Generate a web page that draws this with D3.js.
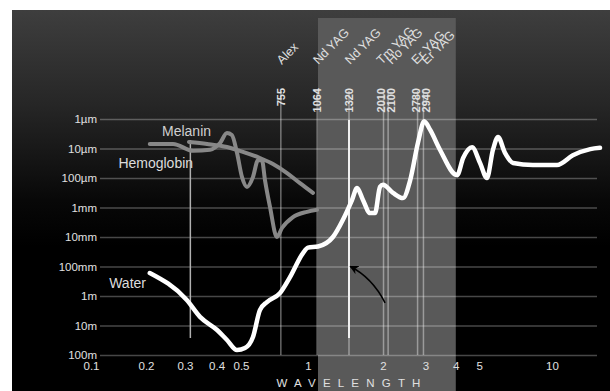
<!DOCTYPE html>
<html>
<head>
<meta charset="utf-8">
<script src="https://cdn.jsdelivr.net/npm/d3@7"></script>
<style>
	body { margin: 0; background: #fff; }
	svg { display: block; font-family: "Liberation Sans", Arial, sans-serif; }
</style>
</head>
<body>
<svg id="chart" width="610" height="391"></svg>
<script>
// wavelength in micrometres, absorption depth in metres
var wavelengthTicks = [0.1, 0.2, 0.3, 0.4, 0.5, 1, 2, 3, 4, 5, 10];
var wavelengthLabels = ["0.1", "0.2", "0.3", "0.4", "0.5", "1", "2", "3", "4", "5", "10"];
var depthTicks = [1e-6, 1e-5, 1e-4, 1e-3, 1e-2, 1e-1, 1, 10, 100];
var depthLabels = ["1µm", "10µm", "100µm", "1mm", "10mm", "100mm", "1m", "10m", "100m"];

var laserNm = [755, 1064, 1320, 2010, 2100, 2780, 2940];
var laserNames = ["Alex", "Nd YAG", "Nd YAG", "Tm YAG", "Ho YAG", "Er YAG", "Er YAG"];
var extraLine = 0.315;
var shadeRange = [1.07, 4.0];

var water = [
	[0.208, 0.166], [0.305, 1.37], [0.344, 5.1], [0.402, 14.2], [0.44, 31],
	[0.482, 68], [0.521, 58], [0.566, 24.5], [0.608, 3.0], [0.654, 1.6],
	[0.748, 0.8], [0.83, 0.23], [0.95, 0.035], [1.0, 0.023], [1.07, 0.021],
	[1.184, 0.01], [1.267, 0.0026], [1.369, 5.6e-4], [1.456, 2.2e-4], [1.566, 5.6e-4],
	[1.707, 1.55e-3], [1.814, 1.55e-3], [1.928, 2.0e-4], [2.0, 1.7e-4], [2.2, 3.2e-4],
	[2.42, 4.8e-4], [2.59, 1.2e-4], [2.79, 6.4e-6], [2.96, 1.2e-6], [3.13, 2.3e-6],
	[3.44, 1.1e-5], [4.05, 8e-5], [4.29, 2.1e-5], [4.67, 9e-6], [5.04, 3.1e-5],
	[5.38, 1.0e-4], [5.7, 1.1e-5], [5.98, 4.1e-6], [6.39, 1.4e-5], [6.9, 3.1e-5],
	[8.34, 3.6e-5], [10.49, 3.6e-5], [12.2, 1.7e-5], [14.4, 1.05e-5], [15.8, 9.5e-6]
];

var hemoglobin = [
	[0.208, 7.0e-6], [0.265, 7.0e-6], [0.323, 1.2e-5], [0.377, 1.1e-5], [0.413, 6.5e-6],
	[0.44, 3.0e-6], [0.46, 3.5e-6], [0.482, 1.4e-5], [0.505, 9.2e-5], [0.532, 2.0e-4],
	[0.566, 9.2e-5], [0.596, 2.5e-5], [0.621, 2.5e-5], [0.641, 1.2e-4], [0.675, 9.6e-4],
	[0.725, 0.01], [0.764, 4.95e-3], [0.856, 2.1e-3], [0.99, 1.4e-3], [1.063, 1.2e-3]
];

var melanin = [
	[0.311, 6.0e-6], [0.367, 7.0e-6], [0.44, 8.9e-6], [0.51, 1.3e-5], [0.608, 2.1e-5],
	[0.696, 3.35e-5], [0.805, 6.8e-5], [0.92, 1.5e-4], [1.034, 3.2e-4]
];

var arrowTail = [2.04, 1.7],
	arrowTip = [1.34, 0.1];

var svg = d3.select("#chart"),
	width = +svg.attr("width"),
	height = +svg.attr("height");

// the wavelength axis of the drawing is only roughly logarithmic
var x = d3.scaleLog()
	.domain([0.1, 0.2, 0.3, 0.5, 1, 1.32, 2, 10])
	.range([91, 146, 185, 241, 308, 349, 383, 552]);

var y = d3.scaleLog()
	.domain([1e-6, 100])
	.range([119, 355]);

var gridLeft = 100, gridRight = 597;

var defs = svg.append("defs");
var grad = defs.append("linearGradient")
	.attr("id", "bg")
	.attr("x1", 0).attr("y1", 0).attr("x2", 0).attr("y2", 1);
grad.append("stop").attr("offset", "0").attr("stop-color", "#3e3e3e");
grad.append("stop").attr("offset", "0.25").attr("stop-color", "#262626");
grad.append("stop").attr("offset", "0.5").attr("stop-color", "#080808");
grad.append("stop").attr("offset", "0.62").attr("stop-color", "#000");

defs.append("marker")
	.attr("id", "head")
	.attr("viewBox", "0 0 10 10")
	.attr("refX", 9).attr("refY", 5)
	.attr("markerWidth", 9).attr("markerHeight", 9)
	.attr("markerUnits", "userSpaceOnUse")
	.attr("orient", "auto")
	.append("path")
	.attr("d", "M0,0L10,5L0,10L3,5Z")
	.attr("fill", "#000");

svg.append("rect")
	.attr("x", 12).attr("y", 10)
	.attr("width", width - 12).attr("height", height - 10)
	.attr("fill", "url(#bg)");

// shaded band
svg.append("rect")
	.attr("x", x(shadeRange[0]))
	.attr("y", 18)
	.attr("width", x(shadeRange[1]) - x(shadeRange[0]))
	.attr("height", height - 18)
	.attr("fill", "#595959");

// y grid + labels
var yAxis = svg.append("g")
	.attr("transform", "translate(" + gridLeft + ",0)")
	.call(d3.axisLeft(y)
		.tickValues(depthTicks)
		.tickFormat(function(d, i) { return depthLabels[i]; })
		.tickSize(-(gridRight - gridLeft))
		.tickPadding(3));
yAxis.select(".domain").remove();
yAxis.selectAll("line")
	.attr("stroke", "#fff")
	.attr("stroke-opacity", 0.28)
	.attr("stroke-width", 1.5);
yAxis.selectAll("text")
	.attr("fill", "#e0e0e0")
	.style("font-family", "Liberation Sans, Arial, sans-serif")
	.style("font-size", "11.5px");

// x labels
var xAxis = svg.append("g")
	.attr("transform", "translate(0," + y(100) + ")")
	.call(d3.axisBottom(x)
		.tickValues(wavelengthTicks)
		.tickFormat(function(d, i) { return wavelengthLabels[i]; })
		.tickSize(0)
		.tickPadding(7));
xAxis.select(".domain").remove();
xAxis.selectAll("text")
	.attr("fill", "#e0e0e0")
	.style("font-family", "Liberation Sans, Arial, sans-serif")
	.style("font-size", "11.5px");

svg.append("text")
	.attr("x", 352)
	.attr("y", 387)
	.attr("text-anchor", "middle")
	.attr("fill", "#e0e0e0")
	.style("font-size", "11.5px")
	.style("letter-spacing", "7.2px")
	.text("WAVELENGTH");

// laser lines
var lasers = svg.append("g");
lasers.selectAll("line")
	.data(laserNm)
	.enter()
	.append("line")
	.attr("x1", function(d) { return x(d / 1000); })
	.attr("x2", function(d) { return x(d / 1000); })
	.attr("y1", 91)
	.attr("y2", y(100))
	.attr("stroke", "#fff")
	.attr("stroke-opacity", 0.4)
	.attr("stroke-width", 1.5);

// spread the labels of lines that sit too close together
var labelX = laserNm.map(function(d) { return x(d / 1000); });
for (var i = 1; i < labelX.length; i++) {
	if (labelX[i] - labelX[i - 1] < 10) {
		var mid = (labelX[i] + labelX[i - 1]) / 2;
		labelX[i - 1] = mid - 5;
		labelX[i] = mid + 5;
	}
}

lasers.selectAll("text.nm")
	.data(laserNm)
	.enter()
	.append("text")
	.attr("class", "nm")
	.attr("transform", function(d, i) { return "translate(" + (labelX[i] + 4) + ",88) rotate(-90)"; })
	.attr("text-anchor", "end")
	.attr("fill", "#e0e0e0")
	.style("font-size", "11px")
	.style("font-weight", "bold")
	.text(function(d) { return d; });

lasers.selectAll("text.name")
	.data(laserNm)
	.enter()
	.append("text")
	.attr("class", "name")
	.attr("transform", function(d, i) { return "translate(" + (labelX[i] + 1) + ",65) rotate(-45)"; })
	.attr("fill", "#e0e0e0")
	.style("font-size", "12.5px")
	.text(function(d, i) { return laserNames[i]; });

svg.append("line")
	.attr("x1", x(extraLine)).attr("x2", x(extraLine))
	.attr("y1", 140).attr("y2", 338)
	.attr("stroke", "#b0b0b0")
	.attr("stroke-width", 1.5);

svg.append("line")
	.attr("x1", x(1.32)).attr("x2", x(1.32))
	.attr("y1", 120).attr("y2", 338)
	.attr("stroke", "#f0f0f0")
	.attr("stroke-width", 2);

// curves
var line = d3.line()
	.x(function(d) { return x(d[0]); })
	.y(function(d) { return y(d[1]); })
	.curve(d3.curveMonotoneX);

svg.append("path")
	.datum(hemoglobin)
	.attr("d", line)
	.attr("fill", "none")
	.attr("stroke", "#888")
	.attr("stroke-width", 4)
	.attr("stroke-linejoin", "round")
	.attr("stroke-linecap", "round");

svg.append("path")
	.datum(melanin)
	.attr("d", line)
	.attr("fill", "none")
	.attr("stroke", "#888")
	.attr("stroke-width", 4)
	.attr("stroke-linecap", "round");

svg.append("path")
	.datum(water)
	.attr("d", line)
	.attr("fill", "none")
	.attr("stroke", "#fff")
	.attr("stroke-width", 4.5)
	.attr("stroke-linejoin", "round")
	.attr("stroke-linecap", "round");

// curve names
svg.append("text")
	.attr("x", x(0.3) - 23).attr("y", 136)
	.attr("fill", "#cfcfcf")
	.style("font-size", "14px")
	.text("Melanin");

svg.append("text")
	.attr("x", x(0.323)).attr("y", 168)
	.attr("text-anchor", "end")
	.attr("fill", "#dcdcdc")
	.style("font-size", "14px")
	.text("Hemoglobin");

svg.append("text")
	.attr("x", x(0.2)).attr("y", 288)
	.attr("text-anchor", "end")
	.attr("fill", "#dcdcdc")
	.style("font-size", "14px")
	.text("Water");

// arrow pointing at the 1320 line
var tx = x(arrowTail[0]), ty = y(arrowTail[1]),
	hx = x(arrowTip[0]), hy = y(arrowTip[1]);
svg.append("path")
	.attr("d", "M" + tx + "," + ty + "Q" + (tx - 13) + "," + (hy + 11) + " " + hx + "," + hy)
	.attr("fill", "none")
	.attr("stroke", "#000")
	.attr("stroke-width", 1.5)
	.attr("marker-end", "url(#head)");
</script>
</body>
</html>
